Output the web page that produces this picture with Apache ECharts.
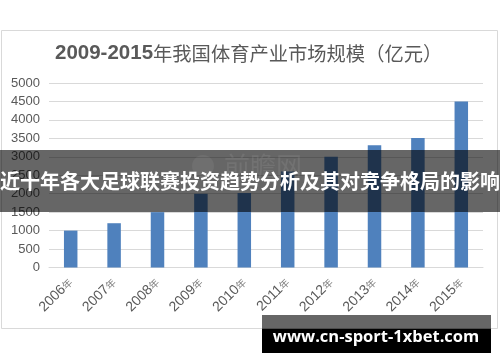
<!DOCTYPE html>
<html>
<head>
<meta charset="utf-8">
<script src="https://cdn.jsdelivr.net/npm/echarts@6/dist/echarts.min.js"></script>
<style>html,body{margin:0;padding:0;background:#fff;}#c{width:500px;height:362px;}</style>
</head>
<body>
<div id="c"></div>
<script>
var years = ['2006', '2007', '2008', '2009', '2010', '2011', '2012', '2013', '2014', '2015'];
var values = [1000, 1200, 1500, 2000, 2020, 2600, 3000, 3310, 3510, 4500];
var yTicks = [0, 500, 1000, 1500, 2000, 2500, 3000, 3500, 4000, 4500, 5000];
var titleBold = '2009-2015';
var titleRest = '年我国体育产业市场规模（亿元）';
var bannerText = '近十年各大足球联赛投资趋势分析及其对竞争格局的影响';
var urlText = 'www.cn-sport-1xbet.com';
var watermark = '前瞻网';

var chart = echarts.init(document.getElementById('c'), null, {renderer: 'canvas'});
var gray = '#595959';
chart.setOption({
  animation: false,
  backgroundColor: '#fff',
  title: {
    text: '{a|' + titleBold + '}{b|' + titleRest + '}',
    left: 50, top: 38,
    textStyle: {
      rich: {
        a: {fontFamily: 'Liberation Sans, Arial', fontWeight: 'bold', fontSize: 20.5, color: gray},
        b: {fontFamily: 'Noto Sans CJK SC', fontWeight: 'normal', fontSize: 19.3, color: gray}
      }
    }
  },
  grid: {left: 49, right: 17, top: 83, bottom: 94.5, containLabel: false},
  xAxis: {
    type: 'category',
    data: years,
    axisLine: {lineStyle: {color: '#d9d9d9', width: 1}},
    axisTick: {show: false},
    axisLabel: {
      rotate: 45, margin: 13, interval: 0,
      formatter: function (v) { return '{a|' + v + '}{b|年}'; },
      rich: {
        a: {fontFamily: 'Liberation Sans, Arial', fontSize: 14, color: gray},
        b: {fontFamily: 'Noto Sans CJK SC', fontSize: 10, color: '#808080'}
      }
    }
  },
  yAxis: {
    type: 'value', min: yTicks[0], max: yTicks[yTicks.length - 1], interval: yTicks[1] - yTicks[0],
    axisLine: {show: false}, axisTick: {show: false},
    splitLine: {lineStyle: {color: '#d9d9d9', width: 1}},
    axisLabel: {margin: 9, fontFamily: 'Liberation Sans, Arial', fontSize: 13, color: gray,
      formatter: function (v) { return String(v); }}
  },
  series: [{
    type: 'bar', data: values, barWidth: 13.5,
    itemStyle: {color: '#4f81bd'}
  }],
  graphic: [
    {type: 'rect', z: -10, silent: true, shape: {x: 1.5, y: 30.5, width: 496, height: 298}, style: {fill: 'rgba(0,0,0,0)', stroke: '#d9d9d9', lineWidth: 1}},
    {type: 'rect', z: 100, shape: {x: 0, y: 150, width: 500, height: 62}, style: {fill: 'rgba(0,0,0,0.6)'}},
    {type: 'circle', z: 101, shape: {cx: 203, cy: 166, r: 11}, style: {fill: 'rgba(255,255,255,0.06)'}},
    {type: 'text', z: 101, style: {text: watermark, x: 224, y: 166, verticalAlign: 'middle', font: '26px "Noto Sans CJK SC"', fill: 'rgba(255,255,255,0.08)'}},
    {type: 'text', z: 102, style: {text: bannerText, x: 250, y: 181, align: 'center', verticalAlign: 'middle', font: 'bold 20px "Noto Sans CJK SC"', fill: '#fff'}},
    {type: 'rect', z: 100, shape: {x: 262, y: 315, width: 229, height: 13.5}, style: {fill: 'rgba(0,0,0,0.6)'}},
    {type: 'rect', z: 100, shape: {x: 262, y: 328.5, width: 229, height: 24.5}, style: {fill: '#000'}},
    {type: 'text', z: 102, style: {text: urlText, x: 376, y: 337, align: 'center', verticalAlign: 'middle', font: 'bold 16.5px "Open Sans"', fill: '#fff'}}
  ]
});
</script>
</body>
</html>
